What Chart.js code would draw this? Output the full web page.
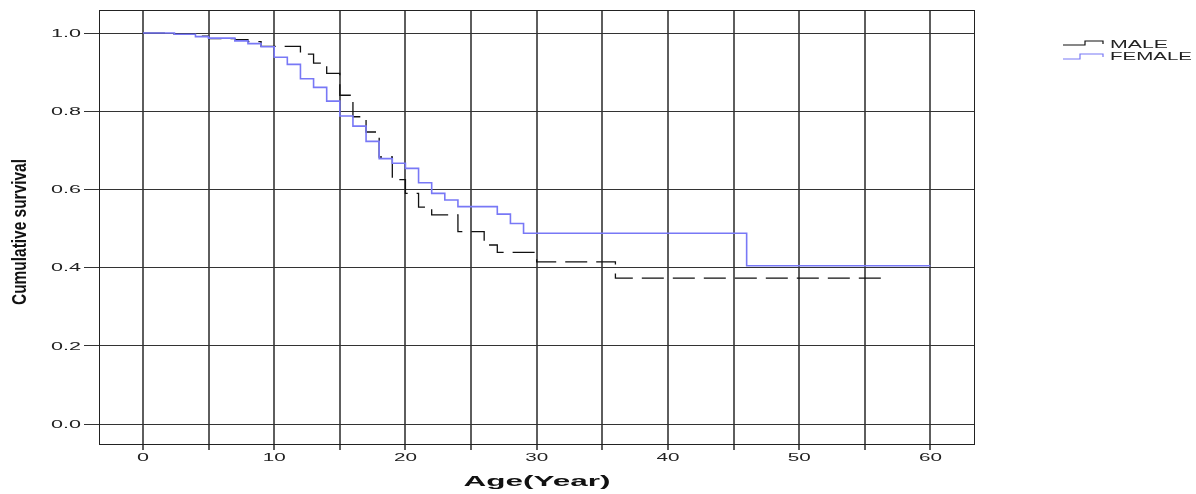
<!DOCTYPE html>
<html>
<head>
<meta charset="utf-8">
<script src="https://cdn.jsdelivr.net/npm/chart.js@4.4.1/dist/chart.umd.min.js"></script>
<style>
  html, body { margin: 0; padding: 0; background: #fff; }
  #wrap { width: 1196px; height: 494px; position: relative; }
</style>
</head>
<body>
<div id="wrap"><canvas id="km-chart"></canvas></div>
<script>
// Kaplan-Meier survival by sex
const maleTime = [0, 2, 4, 5, 7, 8, 9, 12, 13, 14, 15, 16, 17, 18, 19, 20, 21, 22, 24, 26, 27, 30, 36, 56.6];
const maleSurv = [1.0, 0.998, 0.992, 0.986, 0.983, 0.978, 0.966, 0.946, 0.923, 0.897, 0.841, 0.786, 0.747, 0.683, 0.625, 0.590, 0.555, 0.535, 0.492, 0.458, 0.439, 0.415, 0.373, 0.373];

const femaleTime = [0, 2.4, 4, 5, 7, 8, 9, 10, 11, 12, 13, 14, 15, 16, 17, 18, 19, 20, 21, 22, 23, 24, 27, 28, 29, 46, 60];
const femaleSurv = [1.0, 0.997, 0.991, 0.987, 0.980, 0.973, 0.965, 0.938, 0.920, 0.883, 0.861, 0.826, 0.788, 0.762, 0.723, 0.679, 0.667, 0.654, 0.617, 0.590, 0.573, 0.556, 0.537, 0.513, 0.488, 0.405, 0.405];

const seriesNames = ['MALE', 'FEMALE'];
const xTicks = [0, 5, 10, 15, 20, 25, 30, 35, 40, 45, 50, 55, 60];
const yTicks = [0.0, 0.2, 0.4, 0.6, 0.8, 1.0];
const xTitle = 'Age(Year)';
const yTitle = 'Cumulative survival';

const toPoints = (t, s) => t.map((x, i) => ({ x, y: s[i] }));
const SANS = '"Liberation Sans", Arial, sans-serif';

// the source picture is stretched sideways, so text is drawn squeezed/stretched to fit
function fitText(ctx, text, x, y, font, width, align) {
  ctx.save();
  ctx.font = font;
  const w = ctx.measureText(text).width;
  const sx = width / w;
  let left = x;
  if (align === 'center') left = x - width / 2;
  else if (align === 'right') left = x - width;
  ctx.translate(left, y);
  ctx.scale(sx, 1);
  ctx.textAlign = 'left';
  ctx.textBaseline = 'middle';
  ctx.fillText(text, 0, 0);
  ctx.restore();
}

const textPlugin = {
  id: 'texts',
  afterDraw(chart) {
    const { ctx, chartArea: a } = chart;
    const xs = chart.scales.x, ys = chart.scales.y;
    ctx.save();
    ctx.strokeStyle = '#222';
    ctx.lineWidth = 1;
    ctx.strokeRect(a.left + 0.5, a.top + 0.5, a.right - a.left - 1, a.bottom - a.top);
    ctx.fillStyle = '#222';

    // tick labels, positioned by the library scales
    ys.ticks.forEach(t => {
      const py = ys.getPixelForValue(t.value);
      fitText(ctx, Number(t.value).toFixed(1), 81, py + 1, '10px ' + SANS, 30, 'right');
    });
    xs.ticks.forEach(t => {
      if (t.value % 10 !== 0) return;
      const px = xs.getPixelForValue(t.value);
      const w = String(t.value).length === 1 ? 12 : 23;
      fitText(ctx, String(t.value), px, 458, '10px ' + SANS, w, 'center');
    });

    // axis titles
    ctx.fillStyle = '#111';
    fitText(ctx, xTitle, (a.left + a.right) / 2, 482, 'bold 15px ' + SANS, 147, 'center');
    ctx.save();
    ctx.translate(20, 232);
    ctx.rotate(-Math.PI / 2);
    fitText(ctx, yTitle, 0, 0, 'bold 21px ' + SANS, 146, 'center');
    ctx.restore();

    // legend with step-shaped keys
    const x0 = 1063;
    chart.data.datasets.forEach((ds, i) => {
      const y = i === 0 ? 45 : 59;
      ctx.strokeStyle = ds.borderColor;
      ctx.lineWidth = 1.2;
      ctx.beginPath();
      if (i === 0) {
        ctx.moveTo(x0, y); ctx.lineTo(x0 + 22, y);
        ctx.lineTo(x0 + 22, y - 4); ctx.lineTo(x0 + 40, y - 4); ctx.lineTo(x0 + 40, y - 1);
      } else {
        ctx.moveTo(x0, y); ctx.lineTo(x0 + 17, y);
        ctx.lineTo(x0 + 17, y - 5); ctx.lineTo(x0 + 40, y - 5); ctx.lineTo(x0 + 40, y - 2);
      }
      ctx.stroke();
      ctx.fillStyle = '#222';
      const w = ds.label === 'MALE' ? 58 : 82;
      fitText(ctx, ds.label, 1110, i === 0 ? 45 : 57.5, '10.5px ' + SANS, w, 'left');
    });
    ctx.restore();
  }
};

new Chart(document.getElementById('km-chart'), {
  type: 'line',
  data: {
    datasets: [
      {
        label: seriesNames[0],
        data: toPoints(maleTime, maleSurv),
        borderColor: '#111',
        borderWidth: 1.3,
        borderDash: [22, 9],
        stepped: true,
        pointRadius: 0,
        fill: false,
        order: 1
      },
      {
        label: seriesNames[1],
        data: toPoints(femaleTime, femaleSurv),
        borderColor: '#7878f6',
        borderWidth: 1.6,
        stepped: true,
        pointRadius: 0,
        fill: false,
        order: 0
      }
    ]
  },
  options: {
    responsive: true,
    maintainAspectRatio: false,
    animation: false,
    layout: { padding: { top: 10, right: 221, left: 0, bottom: 0 } },
    plugins: {
      legend: { display: false },
      tooltip: { enabled: false }
    },
    scales: {
      x: {
        type: 'linear',
        min: -3.35,
        max: 63.4,
        afterBuildTicks: scale => { scale.ticks = xTicks.map(v => ({ value: v })); },
        afterFit: scale => { scale.height = 50; },
        ticks: { display: false },
        grid: {
          color: 'rgba(40,40,40,0.75)',
          lineWidth: 2,
          tickLength: 6
        },
        border: { display: false }
      },
      y: {
        type: 'linear',
        min: -0.051,
        max: 1.059,
        afterBuildTicks: scale => { scale.ticks = yTicks.map(v => ({ value: v })); },
        afterFit: scale => { scale.width = 99; },
        ticks: { display: false },
        grid: {
          color: '#333',
          lineWidth: 1,
          tickLength: 15
        },
        border: { display: false }
      }
    }
  },
  plugins: [textPlugin]
});
</script>
</body>
</html>
